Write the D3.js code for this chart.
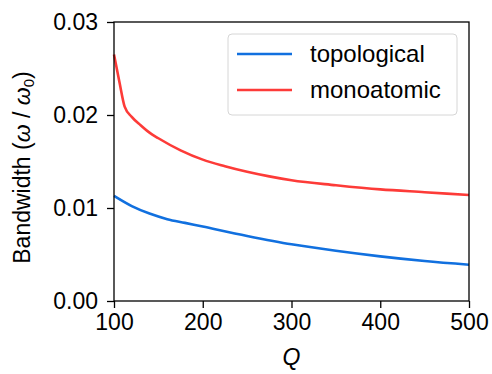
<!DOCTYPE html>
<html>
<head>
<meta charset="utf-8">
<script src="https://cdn.jsdelivr.net/npm/d3@7"></script>
<style>
  body { margin: 0; background: #fff; }
  text { font-family: "Liberation Sans", Arial, sans-serif; fill: #000; }
</style>
</head>
<body>
<div id="chart"></div>
<script>
// data
var qTopo = [100, 120, 140, 160, 180, 200, 250, 300, 350, 400, 450, 500];
var bwTopo = [0.0113, 0.0102, 0.0094, 0.0088, 0.0084, 0.0080, 0.0070, 0.0061, 0.0054, 0.0048, 0.0043, 0.0039];

var qMono = [100, 106, 112, 120, 130, 140, 150, 175, 200, 225, 250, 275, 300, 350, 400, 450, 500];
var bwMono = [0.0265, 0.0236, 0.0209, 0.0198, 0.0189, 0.0181, 0.0175, 0.0162, 0.0152, 0.0145, 0.0139, 0.01340, 0.01298, 0.01245, 0.0120, 0.0117, 0.0114];

var xTicks = [100, 200, 300, 400, 500];
var yTicks = [0, 0.01, 0.02, 0.03];
var seriesNames = ["topological", "monoatomic"];
var seriesColors = ["#1170df", "#fd3b38"];

var svgWidth = 492;
var svgHeight = 374;
var margin = { top: 22, right: 23, bottom: 73, left: 114 };
var width = svgWidth - margin.left - margin.right;
var height = svgHeight - margin.top - margin.bottom;
var fontSize = "23px";

var svg = d3.select("#chart").append("svg")
    .attr("width", svgWidth)
    .attr("height", svgHeight);

var chartGroup = svg.append("g")
    .attr("transform", `translate(${margin.left}, ${margin.top})`);

var x = d3.scaleLinear().domain([100, 500]).range([0, width]);
var y = d3.scaleLinear().domain([0, 0.03]).range([height, 0]);

// curves
var line = d3.line()
    .x(d => x(d[0]))
    .y(d => y(d[1]))
    .curve(d3.curveMonotoneX);

var series = [
    d3.zip(qTopo, bwTopo),
    d3.zip(qMono, bwMono)
];

chartGroup.selectAll(".curve")
    .data(series)
    .enter()
    .append("path")
    .attr("class", "curve")
    .attr("d", line)
    .attr("fill", "none")
    .attr("stroke", (d, i) => seriesColors[i])
    .attr("stroke-width", 2.6);

// axes
var xAxis = chartGroup.append("g")
    .attr("transform", `translate(0, ${height})`)
    .call(d3.axisBottom(x).tickValues(xTicks).tickSize(7).tickPadding(6).tickFormat(d3.format("d")));

var yAxis = chartGroup.append("g")
    .call(d3.axisLeft(y).tickValues(yTicks).tickSize(7).tickPadding(9).tickFormat(d3.format(".2f")));

[xAxis, yAxis].forEach(function(a) {
    a.select(".domain").remove();
    a.selectAll("line").attr("stroke", "#000").attr("stroke-width", 1.3);
    a.selectAll("text").attr("font-size", fontSize).attr("fill", "#000")
        .style("font-family", "'Liberation Sans', Arial, sans-serif");
});

// frame
chartGroup.append("rect")
    .attr("width", width)
    .attr("height", height)
    .attr("fill", "none")
    .attr("stroke", "#000")
    .attr("stroke-width", 1.3);

// axis labels
chartGroup.append("text")
    .attr("x", width / 2)
    .attr("y", height + 64)
    .attr("text-anchor", "middle")
    .attr("font-size", fontSize)
    .style("font-style", "italic")
    .text("Q");

var yl = chartGroup.append("text")
    .attr("transform", "rotate(-90)")
    .attr("x", -height / 2 - 6)
    .attr("y", -84)
    .attr("text-anchor", "middle")
    .attr("font-size", fontSize);
yl.append("tspan").text("Bandwidth (");
yl.append("tspan").style("font-style", "italic").text("ω");
yl.append("tspan").text(" / ");
yl.append("tspan").style("font-style", "italic").text("ω");
yl.append("tspan").attr("font-size", "15px").attr("dy", 4).text("0");
yl.append("tspan").attr("dy", -4).text(")");

// legend
var legend = chartGroup.append("g")
    .attr("transform", `translate(${x(100) + 114}, 12)`);

legend.append("rect")
    .attr("width", 229)
    .attr("height", 81)
    .attr("rx", 4)
    .attr("fill", "#fff")
    .attr("stroke", "#d6d6d6")
    .attr("stroke-width", 1);

seriesNames.forEach(function(name, i) {
    var row = legend.append("g").attr("transform", `translate(0, ${20 + i * 36})`);
    row.append("line")
        .attr("x1", 9).attr("x2", 64)
        .attr("y1", 0).attr("y2", 0)
        .attr("stroke", seriesColors[i])
        .attr("stroke-width", 2.6);
    row.append("text")
        .attr("x", 82)
        .attr("y", 8)
        .attr("font-size", "24px")
        .text(name);
});
</script>
</body>
</html>
